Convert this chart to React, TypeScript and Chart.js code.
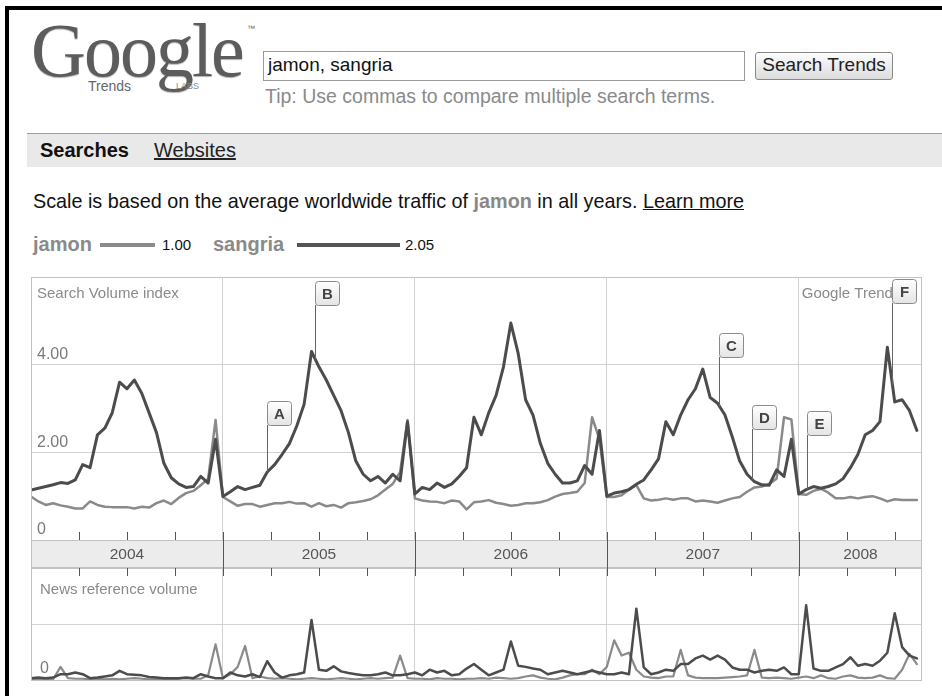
import React, { useEffect, useRef } from "react";
import { Chart, registerables } from "chart.js";

Chart.register(...registerables);

// ---------------- data ----------------
const yearLabels = ["2004", "2005", "2006", "2007", "2008"];
const firstYear = 2004;
const lastDate = 2008.642;
const samplesPerYear = 26; // one sample every two weeks

const sangriaSearch = [
  1.14, 1.18, 1.22, 1.26, 1.31, 1.29, 1.37, 1.72, 1.65, 2.4, 2.55, 2.9, 3.6, 3.45, 3.65, 3.35, 2.9, 2.45, 1.75, 1.42, 1.28, 1.2, 1.22, 1.45, 1.3, 2.3,
  0.99, 1.1, 1.22, 1.15, 1.2, 1.25, 1.55, 1.72, 1.95, 2.2, 2.6, 3.1, 4.3, 3.95, 3.65, 3.3, 2.95, 2.45, 1.8, 1.5, 1.35, 1.45, 1.3, 1.5, 1.35, 2.7,
  1.05, 1.2, 1.15, 1.3, 1.2, 1.28, 1.45, 1.65, 2.8, 2.4, 2.9, 3.3, 3.95, 4.95, 4.25, 3.2, 2.85, 2.2, 1.75, 1.5, 1.3, 1.3, 1.35, 1.7, 1.5, 2.5,
  1.0, 1.07, 1.1, 1.15, 1.27, 1.37, 1.6, 1.85, 2.7, 2.4, 2.85, 3.2, 3.45, 3.9, 3.25, 3.12, 2.85, 2.35, 1.8, 1.5, 1.33, 1.26, 1.25, 1.6, 1.45, 2.3,
  1.05, 1.15, 1.22, 1.18, 1.22, 1.28, 1.4, 1.65, 1.95, 2.4, 2.5, 2.7, 4.4, 3.15, 3.2, 2.95, 2.5,
];

const jamonSearch = [
  0.99, 0.88, 0.8, 0.84, 0.79, 0.76, 0.72, 0.72, 0.88, 0.8, 0.76, 0.75, 0.75, 0.75, 0.72, 0.76, 0.74, 0.84, 0.9, 0.82, 0.96, 1.07, 1.12, 1.25, 1.4, 2.74,
  0.98, 0.88, 0.78, 0.82, 0.82, 0.76, 0.8, 0.84, 0.84, 0.87, 0.83, 0.84, 0.76, 0.84, 0.77, 0.8, 0.74, 0.84, 0.86, 0.89, 0.93, 1.02, 1.15, 1.28, 1.55, 2.74,
  0.95, 0.9, 0.88, 0.87, 0.84, 0.9, 0.88, 0.7, 0.86, 0.88, 0.91, 0.85, 0.82, 0.78, 0.8, 0.84, 0.84, 0.86, 0.91, 0.99, 1.05, 1.07, 1.1, 1.3, 2.8, 2.3,
  0.98, 0.98, 1.02, 1.15, 1.25, 0.95, 0.9, 0.92, 0.95, 0.92, 0.95, 0.95, 0.88, 0.9, 0.88, 0.85, 0.9, 0.95, 0.98, 1.1, 1.2, 1.22, 1.28, 1.4, 2.8, 2.75,
  1.05, 1.03, 1.12, 1.17, 1.08, 0.95, 0.95, 0.98, 0.95, 0.98, 1.0, 0.95, 0.88, 0.93, 0.91, 0.91, 0.91,
];

const sangriaNews = [
  0.05, 0.06, 0.05, 0.06, 0.12, 0.12, 0.15, 0.12, 0.05, 0.06, 0.08, 0.1, 0.18, 0.12, 0.11, 0.1, 0.07, 0.06, 0.05, 0.05, 0.05, 0.06, 0.05, 0.12, 0.08, 0.05,
  0.05, 0.15, 0.1, 0.08, 0.12, 0.07, 0.35, 0.15, 0.06, 0.1, 0.12, 0.15, 1.08, 0.2, 0.18, 0.26, 0.17, 0.14, 0.12, 0.1, 0.1, 0.12, 0.15, 0.1, 0.1, 0.12,
  0.15, 0.1, 0.2, 0.15, 0.18, 0.1, 0.12, 0.22, 0.3, 0.2, 0.1, 0.15, 0.2, 0.7, 0.27, 0.25, 0.22, 0.2, 0.12, 0.15, 0.18, 0.15, 0.12, 0.15, 0.18, 0.15,
  0.12, 0.12, 0.15, 0.12, 1.28, 0.24, 0.12, 0.15, 0.2, 0.18, 0.3, 0.3, 0.4, 0.45, 0.38, 0.45, 0.38, 0.24, 0.2, 0.2, 0.15, 0.18, 0.2, 0.18, 0.24, 0.12,
  0.12, 1.34, 0.22, 0.18, 0.18, 0.24, 0.3, 0.42, 0.27, 0.3, 0.27, 0.36, 0.5, 1.2, 0.6, 0.45, 0.4,
];

const jamonNews = [
  0.03, 0.04, 0.03, 0.03, 0.25, 0.05, 0.04, 0.04, 0.03, 0.04, 0.03, 0.04, 0.03, 0.04, 0.05, 0.04, 0.03, 0.03, 0.04, 0.03, 0.04, 0.05, 0.04, 0.04, 0.1, 0.65,
  0.05, 0.12, 0.25, 0.62, 0.05, 0.08, 0.05, 0.04, 0.05, 0.04, 0.03, 0.04, 0.05, 0.04, 0.03, 0.04, 0.05, 0.04, 0.03, 0.04, 0.05, 0.04, 0.05, 0.06, 0.45, 0.05,
  0.04, 0.04, 0.03, 0.05, 0.04, 0.04, 0.03, 0.04, 0.04, 0.05, 0.04, 0.06, 0.05, 0.04, 0.05, 0.08, 0.1, 0.06, 0.04, 0.03, 0.06, 0.1, 0.12, 0.12, 0.2, 0.12,
  0.25, 0.72, 0.45, 0.5, 0.2, 0.08, 0.06, 0.05, 0.08, 0.08, 0.55, 0.1, 0.06, 0.05, 0.05, 0.05, 0.06, 0.07, 0.08, 0.1, 0.55, 0.06, 0.05, 0.06, 0.05, 0.04,
  0.06, 0.08, 0.05, 0.1, 0.05, 0.04, 0.08, 0.1, 0.06, 0.05, 0.06, 0.1, 0.05, 0.04, 0.2, 0.48, 0.3,
];

const searchTickLabels: Record<number, string> = { 0: "0", 2: "2.00", 4: "4.00" };
const newsTickLabels: Record<number, string> = { 0: "0" };

const flagLetters = ["A", "B", "C", "D", "E", "F"];
const flagDates = [2005.231, 2005.481, 2007.585, 2007.757, 2008.043, 2008.486];
const flagLevels = [2.63, 5.37, 4.18, 2.53, 2.4, 5.41];

const legendAverages = ["1.00", "2.05"];

// ---------------- helpers ----------------
const FONT = '"Liberation Sans", Arial, Helvetica, sans-serif';
const GRID = "#d2d2d2";
const FRAME = "#c2c2c2";
const TICK = "#555555";

const toPoints = (vals: number[]) =>
  vals.map((y, i) => ({ x: firstYear + i / samplesPerYear, y }));

function quarterMarks(): number[] {
  const out: number[] = [];
  for (let yr = firstYear; yr < lastDate; yr++) {
    for (const q of [0, 0.25, 0.5, 0.75]) {
      const v = yr + q;
      if (v > firstYear && v < lastDate) out.push(v);
    }
  }
  return out;
}

function drawFlags(chart: any) {
  const { ctx } = chart;
  const xs = chart.scales.x;
  const ys = chart.scales.y;
  const els = chart.getDatasetMeta(0).data;
  ctx.save();
  flagLetters.forEach((letter, k) => {
    const px = Math.round(xs.getPixelForValue(flagDates[k])) + 0.5;
    let lineY = ys.getPixelForValue(0);
    for (let i = 0; i < els.length - 1; i++) {
      const p0 = els[i];
      const p1 = els[i + 1];
      if (p0.x <= px && px <= p1.x) {
        lineY = p0.y + ((p1.y - p0.y) * (px - p0.x)) / (p1.x - p0.x);
        break;
      }
    }
    const boxBottom = Math.round(ys.getPixelForValue(flagLevels[k]));
    const bw = 24;
    const bh = 24;
    const bx = px;
    const by = boxBottom - bh + 0.5;
    ctx.strokeStyle = "#666";
    ctx.lineWidth = 1;
    ctx.beginPath();
    ctx.moveTo(px, lineY);
    ctx.lineTo(px, boxBottom);
    ctx.stroke();
    const g = ctx.createLinearGradient(0, by, 0, by + bh);
    g.addColorStop(0, "#ffffff");
    g.addColorStop(1, "#e4e4e4");
    ctx.fillStyle = g;
    ctx.beginPath();
    ctx.roundRect(bx, by, bw, bh, 3);
    ctx.fill();
    ctx.strokeStyle = "#8a8a8a";
    ctx.stroke();
    ctx.fillStyle = "#444";
    ctx.font = `bold 15px ${FONT}`;
    ctx.textAlign = "center";
    ctx.textBaseline = "middle";
    ctx.fillText(letter, bx + bw / 2, by + bh / 2 + 1);
  });
  ctx.restore();
}

const searchDecor = {
  id: "searchDecor",
  beforeDatasetsDraw(chart: any) {
    const { ctx, chartArea: a } = chart;
    const xs = chart.scales.x;
    const ys = chart.scales.y;
    ctx.save();
    ctx.fillStyle = "#8a8a8a";
    ctx.textAlign = "left";
    ctx.textBaseline = "middle";
    ctx.font = `15px ${FONT}`;
    ctx.fillText("Search Volume index", a.left + 6, a.top + 17);
    ctx.fillText("Google Trends", xs.getPixelForValue(2008) + 3, a.top + 17);
    ctx.font = `16px ${FONT}`;
    ctx.fillStyle = "#7a7a7a";
    ys.ticks.forEach((t: any) => {
      const lab = searchTickLabels[t.value];
      if (lab) ctx.fillText(lab, a.left + 6, ys.getPixelForValue(t.value) - 10);
    });
    ctx.restore();
  },
  afterDatasetsDraw(chart: any) {
    drawFlags(chart);
  },
  afterDraw(chart: any) {
    const { ctx, chartArea: a } = chart;
    const xs = chart.scales.x;
    const top = a.bottom;
    const h = 28;
    ctx.save();
    ctx.fillStyle = "#ececec";
    ctx.fillRect(a.left, top, a.width, h);
    ctx.strokeStyle = FRAME;
    ctx.lineWidth = 1;
    ctx.strokeRect(a.left + 0.5, a.top + 0.5, a.width - 1, a.height + h - 1);
    ctx.beginPath();
    ctx.moveTo(a.left, top + 0.5);
    ctx.lineTo(a.right, top + 0.5);
    ctx.stroke();
    ctx.strokeStyle = TICK;
    ctx.beginPath();
    quarterMarks().forEach((v) => {
      const px = Math.round(xs.getPixelForValue(v)) + 0.5;
      const isYear = Math.abs(v - Math.round(v)) < 1e-9;
      ctx.moveTo(px, top - 8);
      ctx.lineTo(px, isYear ? top + h : top);
    });
    ctx.stroke();
    ctx.fillStyle = "#555";
    ctx.font = `15.5px ${FONT}`;
    ctx.textAlign = "center";
    ctx.textBaseline = "middle";
    yearLabels.forEach((lab, k) => {
      const s = Math.max(a.left, xs.getPixelForValue(firstYear + k));
      const e = Math.min(a.right, xs.getPixelForValue(firstYear + k + 1));
      ctx.fillText(lab, (s + e) / 2, top + h / 2 + 1);
    });
    ctx.restore();
  },
};

const newsDecor = {
  id: "newsDecor",
  beforeDatasetsDraw(chart: any) {
    const { ctx, chartArea: a } = chart;
    const ys = chart.scales.y;
    ctx.save();
    ctx.fillStyle = "#8a8a8a";
    ctx.textAlign = "left";
    ctx.textBaseline = "middle";
    ctx.font = `15px ${FONT}`;
    ctx.fillText("News reference volume", a.left + 9, a.top + 22);
    ctx.font = `16px ${FONT}`;
    ctx.fillStyle = "#7a7a7a";
    ys.ticks.forEach((t: any) => {
      const lab = newsTickLabels[t.value];
      if (lab) ctx.fillText(lab, a.left + 9, ys.getPixelForValue(t.value) - 12);
    });
    ctx.restore();
  },
  afterDraw(chart: any) {
    const { ctx, chartArea: a } = chart;
    const xs = chart.scales.x;
    ctx.save();
    ctx.strokeStyle = FRAME;
    ctx.lineWidth = 1;
    ctx.strokeRect(a.left + 0.5, a.top + 0.5, a.width - 1, a.height - 1);
    ctx.strokeStyle = TICK;
    ctx.beginPath();
    quarterMarks().forEach((v) => {
      const px = Math.round(xs.getPixelForValue(v)) + 0.5;
      ctx.moveTo(px, a.top);
      ctx.lineTo(px, a.top + 8);
    });
    ctx.stroke();
    ctx.restore();
  },
};

function baseOptions(yMax: number, yStep: number, bottomPad: number): any {
  return {
    animation: false,
    responsive: false,
    maintainAspectRatio: false,
    events: [],
    layout: { padding: { left: 0, right: 0, top: 0, bottom: bottomPad } },
    plugins: { legend: { display: false }, tooltip: { enabled: false } },
    elements: {
      point: { radius: 0 },
      line: { tension: 0, borderJoinStyle: "round", borderCapStyle: "round" },
    },
    scales: {
      x: {
        type: "linear",
        min: firstYear,
        max: lastDate,
        ticks: { display: false, stepSize: 1 },
        grid: { color: GRID, drawTicks: false },
        border: { display: false },
      },
      y: {
        min: 0,
        max: yMax,
        ticks: { display: false, stepSize: yStep },
        grid: { color: GRID, drawTicks: false },
        border: { display: false },
      },
    },
  };
}

const txt = (
  left: number,
  cy: number,
  size: number,
  extra: React.CSSProperties = {}
): React.CSSProperties => ({
  position: "absolute",
  left,
  top: cy - size * 0.6,
  fontSize: size,
  lineHeight: `${size * 1.2}px`,
  whiteSpace: "nowrap",
  ...extra,
});

export default function App() {
  const searchRef = useRef<HTMLCanvasElement>(null);
  const newsRef = useRef<HTMLCanvasElement>(null);

  useEffect(() => {
    const c1 = new Chart(searchRef.current as HTMLCanvasElement, {
      type: "line",
      data: {
        datasets: [
          { label: "sangria", data: toPoints(sangriaSearch), borderColor: "#4c4c4c", borderWidth: 3 },
          { label: "jamon", data: toPoints(jamonSearch), borderColor: "#8a8a8a", borderWidth: 2.5 },
        ],
      } as any,
      options: baseOptions(6, 2, 28),
      plugins: [searchDecor],
    });
    const c2 = new Chart(newsRef.current as HTMLCanvasElement, {
      type: "line",
      data: {
        datasets: [
          { label: "sangria", data: toPoints(sangriaNews), borderColor: "#4c4c4c", borderWidth: 2.5 },
          { label: "jamon", data: toPoints(jamonNews), borderColor: "#8a8a8a", borderWidth: 2.2 },
        ],
      } as any,
      options: baseOptions(2, 1, 0),
      plugins: [newsDecor],
    });
    return () => {
      c1.destroy();
      c2.destroy();
    };
  }, []);

  return (
    <div
      style={{
        position: "fixed",
        left: 0,
        top: 0,
        width: 942,
        height: 696,
        background: "#fff",
        overflow: "hidden",
        fontFamily: FONT,
        color: "#111",
      }}
    >
      {/* black screenshot frame */}
      <div
        style={{
          position: "absolute",
          left: 5,
          top: 6,
          width: 960,
          height: 720,
          borderTop: "4px solid #000",
          borderLeft: "4px solid #000",
        }}
      />

      {/* logo */}
      <div
        style={{
          position: "absolute",
          left: 31,
          top: 12,
          fontFamily: '"Liberation Serif", "DejaVu Serif", serif',
          fontSize: 76,
          lineHeight: "76px",
          letterSpacing: -2,
          color: "#5c5c5c",
          textShadow: "0 1px 1px #b0b0b0",
        }}
      >
        Google
      </div>
      <div style={txt(247, 29, 8, { color: "#666" })}>™</div>
      <div style={txt(88, 86, 14, { color: "#666" })}>Trends</div>
      <div style={txt(176, 86, 9, { color: "#888" })}>LABS</div>

      {/* search box */}
      <div
        style={{
          position: "absolute",
          left: 263,
          top: 51,
          width: 480,
          height: 28,
          border: "1px solid #9a9a9a",
          background: "#fff",
        }}
      />
      <div style={txt(268, 65, 19)}>jamon, sangria</div>
      <div
        style={{
          position: "absolute",
          left: 755,
          top: 52,
          width: 136,
          height: 26,
          border: "1px solid #888",
          borderRadius: 3,
          background: "linear-gradient(#fdfdfd, #dcdcdc)",
        }}
      />
      <div style={txt(755, 65, 19, { width: 138, textAlign: "center", color: "#222" })}>Search Trends</div>
      <div style={txt(265, 97, 19.5, { color: "#8a8a8a" })}>
        Tip: Use commas to compare multiple search terms.
      </div>

      {/* tab band */}
      <div
        style={{
          position: "absolute",
          left: 27,
          top: 133,
          width: 915,
          height: 33,
          background: "#e9e9e9",
          borderTop: "1px solid #9d9d9d",
        }}
      />
      <div style={txt(40, 150, 20, { fontWeight: "bold" })}>Searches</div>
      <div style={txt(154, 150, 20, { textDecoration: "underline", color: "#222" })}>Websites</div>

      {/* scale note */}
      <div style={txt(33, 202, 19.8)}>
        Scale is based on the average worldwide traffic of{" "}
        <b style={{ color: "#888" }}>jamon</b> in all years. <u>Learn more</u>
      </div>

      {/* legend */}
      <div style={txt(33, 244, 20, { fontWeight: "bold", color: "#8a8a8a" })}>jamon</div>
      <div style={{ position: "absolute", left: 100, top: 243, width: 55, height: 4, background: "#8a8a8a" }} />
      <div style={txt(162, 245, 15)}>{legendAverages[0]}</div>
      <div style={txt(213, 244, 20, { fontWeight: "bold", color: "#8a8a8a" })}>sangria</div>
      <div style={{ position: "absolute", left: 297, top: 243, width: 103, height: 4, background: "#555" }} />
      <div style={txt(405, 245, 15)}>{legendAverages[1]}</div>

      {/* charts */}
      <canvas
        ref={searchRef}
        width={891}
        height={291}
        style={{ position: "absolute", left: 31, top: 277, width: 891, height: 291 }}
      />
      <canvas
        ref={newsRef}
        width={891}
        height={113}
        style={{ position: "absolute", left: 31, top: 568, width: 891, height: 113 }}
      />
    </div>
  );
}
